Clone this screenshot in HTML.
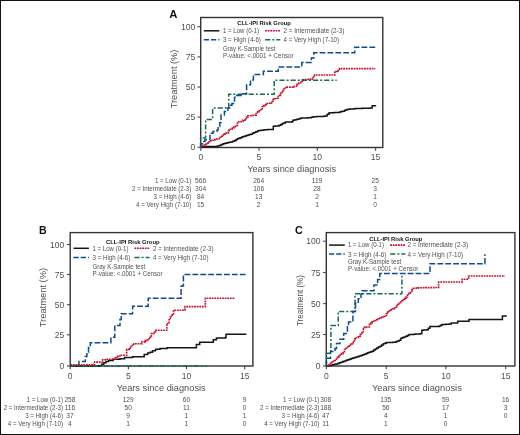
<!DOCTYPE html>
<html><head><meta charset="utf-8"><style>
html,body{margin:0;padding:0;background:#fff;}
body{width:520px;height:435px;overflow:hidden;position:relative;}
svg{position:absolute;left:0;top:0;display:block;font-family:"Liberation Sans", sans-serif;will-change:transform;}
.frame{position:absolute;left:0;top:0;width:518px;height:433px;border:1px solid #111;}
</style></head><body>
<svg width="520" height="435" viewBox="0 0 520 435">
<text x="169.2" y="18.0" font-size="11.3" font-weight="bold" fill="#111">A</text>
<rect x="200.7" y="17.5" width="182.1" height="130.0" fill="none" stroke="#333" stroke-width="1.4"/>
<path d="M200.6,146.7H202.2V146.7H203.9V146.7H205.5V146.6H207.2V146.6H208.8V146.6H210.5V146.6H212.1V146.5H213.8V146.5H215.4V146.5H217.3V145.9H219.2V145.4H221.1V144.6H223.1V143.8H225.0V143.2H226.9V142.7H228.9V142.3H230.8V141.9H232.7V141.2H234.6V140.4H236.1V139.4H237.7V138.5H240.0V137.7H241.7V137.1H243.3V136.6H245.0V136.0H246.4V135.6H247.9V135.1H249.4V134.6H250.8V134.2H252.4V133.3H254.0V132.5H255.8V131.7H257.7V130.8H259.4V130.6H261.1V130.3H262.9V130.1H264.6V129.8H266.2V129.7H267.8V129.6H269.4V129.5H271.0V129.4H273.3V126.3H275.3V126.1H277.3V125.9H279.1V125.2H280.8V124.4H282.3V123.6H283.9V122.9H285.4V122.1H287.0V122.0H288.5V121.9H290.1V121.9H291.7V121.8H292.9V120.3H294.2V120.0H295.5V119.8H296.9V119.3H298.3V118.9H299.7V118.5H301.1V118.0H302.8V118.0H304.4V117.9H306.1V117.9H307.7V117.8H309.4V117.8H311.3V117.2H313.2V116.7H314.9V116.7H316.6V116.6H318.3V116.6H320.0V116.5H321.7V116.5H323.4V116.2H325.1V115.9H327.1V114.3H329.1V112.8H330.9V112.7H332.6V112.7H334.4V112.6H336.1V112.6H337.9V112.5H339.5V112.1H341.0V111.6H342.6V111.2H344.6V110.3H346.6V109.5H348.4V109.3H350.1V109.1H351.9V108.9H353.6V108.7H355.4V108.5H357.0V108.5H358.6V108.4H360.2V108.4H361.8V108.3H363.4V108.3H365.1V108.3H366.7V108.2H368.3V108.2H369.9V108.1H371.5V108.1H372.2V105.8H376.2" fill="none" stroke="#151515" stroke-width="1.5" stroke-linecap="butt" stroke-linejoin="miter"/>
<path d="M200.6,147.0H201.2V146.2H202.9V145.6H204.6V145.0H206.1V144.1H207.7V143.1H209.2V141.9H210.8V140.8H212.2V140.2H213.5V139.6H215.2V139.2H216.9V138.8H219.2V137.3H220.8V136.2H222.3V135.0H224.2V134.1H226.2V133.1H228.5V130.4H230.4V129.2H232.3V128.1H233.9V126.8H235.4V125.4H237.5V121.8H239.2V121.7H241.0V121.5H243.0V120.1H245.0V118.7H246.4V117.2H247.9V115.8H249.6V115.7H251.4V115.5H253.1V115.3H254.8V115.2H256.2V113.5H257.7V111.7H259.1V110.8H260.6V110.0H262.1V106.7H263.5V105.6H264.8V104.6H266.2V103.5H268.2V103.2H270.2V102.9H271.6V101.2H273.1V99.4H274.8V98.8H276.5V98.3H278.3V95.4H280.6V92.5H282.1V90.8H283.5V89.0H285.2V88.0H286.9V87.1H291.5H292.9V86.7H294.4V86.2H296.7V84.4H299.0V82.7H300.8V81.2H302.5V79.8H304.1V79.7H305.6V79.6H307.2V79.5H308.7V79.4H310.3V79.3H312.5V77.0H314.5V75.0H332.6H334.7V72.4H336.0V71.5H337.4V70.6H339.5V68.6H375.3" fill="none" stroke="#c90d2c" stroke-width="1.6" stroke-dasharray="1.8 0.8" stroke-linecap="butt" stroke-linejoin="miter"/>
<path d="M200.6,147.0H200.6V137.9H205.6V119.5H212.6V108.1H228.7V94.2H274.2V80.2H336.7" fill="none" stroke="#1b6b4f" stroke-width="1.5" stroke-dasharray="5.2 2 2 2" stroke-linecap="butt" stroke-linejoin="miter"/>
<path d="M200.6,147.0H200.7V143.7H202.8V141.6H204.9V139.8H210.0V133.3H213.0V131.6H217.0V129.9H218.1V126.4H219.8V122.4H221.0V114.9H224.4V111.5H227.9V108.0H229.6V105.2H231.9V103.4H233.6V101.1H234.5V97.3H236.7V95.4H241.0V93.7H246.6V84.8H250.5V80.0H253.4V74.5H263.4V71.3H278.3V66.9H301.8V62.5H311.4V58.0H313.8V52.7H354.7V47.2H375.3" fill="none" stroke="#124b8b" stroke-width="1.5" stroke-dasharray="5.8 2.1" stroke-linecap="butt" stroke-linejoin="miter"/>
<line x1="197.5" y1="147.3" x2="200.7" y2="147.3" stroke="#444" stroke-width="1.1"/>
<text x="195.3" y="150.4" font-size="8.6" text-anchor="end" fill="#505050">0</text>
<line x1="197.5" y1="117.1" x2="200.7" y2="117.1" stroke="#444" stroke-width="1.1"/>
<text x="195.3" y="120.2" font-size="8.6" text-anchor="end" fill="#505050">25</text>
<line x1="197.5" y1="87.0" x2="200.7" y2="87.0" stroke="#444" stroke-width="1.1"/>
<text x="195.3" y="90.1" font-size="8.6" text-anchor="end" fill="#505050">50</text>
<line x1="197.5" y1="56.9" x2="200.7" y2="56.9" stroke="#444" stroke-width="1.1"/>
<text x="195.3" y="60.0" font-size="8.6" text-anchor="end" fill="#505050">75</text>
<line x1="197.5" y1="26.7" x2="200.7" y2="26.7" stroke="#444" stroke-width="1.1"/>
<text x="195.3" y="29.8" font-size="8.6" text-anchor="end" fill="#505050">100</text>
<line x1="200.8" y1="147.5" x2="200.8" y2="150.7" stroke="#444" stroke-width="1.1"/>
<text x="200.8" y="160.0" font-size="8.6" text-anchor="middle" fill="#505050">0</text>
<line x1="259.0" y1="147.5" x2="259.0" y2="150.7" stroke="#444" stroke-width="1.1"/>
<text x="259.0" y="160.0" font-size="8.6" text-anchor="middle" fill="#505050">5</text>
<line x1="317.3" y1="147.5" x2="317.3" y2="150.7" stroke="#444" stroke-width="1.1"/>
<text x="317.3" y="160.0" font-size="8.6" text-anchor="middle" fill="#505050">10</text>
<line x1="375.6" y1="147.5" x2="375.6" y2="150.7" stroke="#444" stroke-width="1.1"/>
<text x="375.6" y="160.0" font-size="8.6" text-anchor="middle" fill="#505050">15</text>
<text x="247.2" y="172.3" font-size="9.1" textLength="88.8" lengthAdjust="spacingAndGlyphs" fill="#505050">Years since diagnosis</text>
<text x="0.0" y="0.0" font-size="9.1" textLength="58.7" lengthAdjust="spacingAndGlyphs" fill="#505050" transform="translate(177.3,108.3) rotate(-90)">Treatment (%)</text>
<text x="237.3" y="25.2" font-size="6.1" font-weight="bold" textLength="53.6" lengthAdjust="spacingAndGlyphs" fill="#111">CLL-IPI Risk Group</text>
<path d="M203.8,30.8H219.3" fill="none" stroke="#151515" stroke-width="1.5" stroke-linecap="butt" stroke-linejoin="miter"/>
<path d="M265.1,30.8H280.3" fill="none" stroke="#c90d2c" stroke-width="1.6" stroke-dasharray="1.8 0.8" stroke-linecap="butt" stroke-linejoin="miter"/>
<path d="M203.8,39.7H219.3" fill="none" stroke="#124b8b" stroke-width="1.5" stroke-dasharray="5.2 2" stroke-linecap="butt" stroke-linejoin="miter"/>
<path d="M265.1,39.7H280.3" fill="none" stroke="#1b6b4f" stroke-width="1.5" stroke-dasharray="5.2 2 2 2" stroke-linecap="butt" stroke-linejoin="miter"/>
<text x="222.9" y="32.9" font-size="6.7" textLength="36.2" lengthAdjust="spacingAndGlyphs" fill="#505050">1 = Low (0-1)</text>
<text x="283.5" y="32.9" font-size="6.7" textLength="60.8" lengthAdjust="spacingAndGlyphs" fill="#505050">2 = Intermediate (2-3)</text>
<text x="222.9" y="42.1" font-size="6.7" textLength="38.0" lengthAdjust="spacingAndGlyphs" fill="#505050">3 = High (4-6)</text>
<text x="283.5" y="42.1" font-size="6.7" textLength="55.6" lengthAdjust="spacingAndGlyphs" fill="#505050">4 = Very High (7-10)</text>
<text x="222.9" y="51.0" font-size="6.7" textLength="52.6" lengthAdjust="spacingAndGlyphs" fill="#505050">Gray K-Sample test</text>
<text x="222.9" y="58.1" font-size="6.7" textLength="70.6" lengthAdjust="spacingAndGlyphs" fill="#505050">P-value: &lt;.0001 + Censor</text>
<text x="154.9" y="183.3" font-size="6.6" textLength="36.4" lengthAdjust="spacingAndGlyphs" fill="#505050">1 = Low (0-1)</text>
<text x="200.6" y="183.3" font-size="6.6" text-anchor="middle" fill="#505050">566</text>
<text x="258.7" y="183.3" font-size="6.6" text-anchor="middle" fill="#505050">264</text>
<text x="317.0" y="183.3" font-size="6.6" text-anchor="middle" fill="#505050">119</text>
<text x="375.2" y="183.3" font-size="6.6" text-anchor="middle" fill="#505050">25</text>
<text x="132.0" y="191.3" font-size="6.6" textLength="59.3" lengthAdjust="spacingAndGlyphs" fill="#505050">2 = Intermediate (2-3)</text>
<text x="200.6" y="191.3" font-size="6.6" text-anchor="middle" fill="#505050">304</text>
<text x="258.7" y="191.3" font-size="6.6" text-anchor="middle" fill="#505050">106</text>
<text x="317.0" y="191.3" font-size="6.6" text-anchor="middle" fill="#505050">28</text>
<text x="375.2" y="191.3" font-size="6.6" text-anchor="middle" fill="#505050">3</text>
<text x="153.5" y="199.0" font-size="6.6" textLength="37.8" lengthAdjust="spacingAndGlyphs" fill="#505050">3 = High (4-6)</text>
<text x="200.6" y="199.0" font-size="6.6" text-anchor="middle" fill="#505050">84</text>
<text x="258.7" y="199.0" font-size="6.6" text-anchor="middle" fill="#505050">13</text>
<text x="317.0" y="199.0" font-size="6.6" text-anchor="middle" fill="#505050">2</text>
<text x="375.2" y="199.0" font-size="6.6" text-anchor="middle" fill="#505050">1</text>
<text x="136.1" y="206.7" font-size="6.6" textLength="55.2" lengthAdjust="spacingAndGlyphs" fill="#505050">4 = Very High (7-10)</text>
<text x="200.6" y="206.7" font-size="6.6" text-anchor="middle" fill="#505050">15</text>
<text x="258.7" y="206.7" font-size="6.6" text-anchor="middle" fill="#505050">2</text>
<text x="317.0" y="206.7" font-size="6.6" text-anchor="middle" fill="#505050">1</text>
<text x="375.2" y="206.7" font-size="6.6" text-anchor="middle" fill="#505050">0</text>
<text x="39.1" y="233.6" font-size="10.6" font-weight="bold" fill="#111">B</text>
<rect x="70.2" y="232.6" width="182.7" height="133.4" fill="none" stroke="#333" stroke-width="1.4"/>
<path d="M70.4,365.9H78.9V361.5H85.3V356.6H86.9V352.3H88.5V347.5H90.3V342.7H110.9V337.3H114.8V325.5H120.0V319.5H121.2V313.7H132.6V306.2H148.2V298.2H181.1V286.1H183.4V274.6H246.4" fill="none" stroke="#124b8b" stroke-width="1.5" stroke-dasharray="5.8 2.1" stroke-linecap="butt" stroke-linejoin="miter"/>
<path d="M70.4,365.9H99.2V365.8H101.5V364.2H103.8V362.7H106.0V361.5H108.5V360.4H113.1V359.2H120.0V358.7H124.6V357.5H132.7V356.7H140.8H144.2V354.6H147.7V352.9H150.0V352.3H152.5V350.8H155.6V349.3H160.0V348.5H167.1V347.8H195.6H196.4V344.5H199.7V342.3H212.5H213.3V339.7H216.4V338.0H225.4V337.5H226.0V334.3H246.4" fill="none" stroke="#151515" stroke-width="1.5" stroke-linecap="butt" stroke-linejoin="miter"/>
<path d="M70.4,364.9H92.3V364.4H94.6V362.1H102.7V359.8H106.2V359.2H115.4V357.5H117.7V356.0H120.0V355.2H126.7V349.4H129.2V348.3H131.0V345.4H133.8V343.7H141.9V341.9H145.1V340.6H147.6V338.7H150.1V337.4H151.4V333.6H153.9V331.7H155.8V330.2H166.8V323.5H169.1V319.7H170.3V316.5H172.2V314.0H173.5V310.2H184.9V306.6H205.3V298.2H234.8" fill="none" stroke="#c90d2c" stroke-width="1.6" stroke-dasharray="1.8 0.8" stroke-linecap="butt" stroke-linejoin="miter"/>
<path d="M70.4,365.9H207.0" fill="none" stroke="#1b6b4f" stroke-width="1.5" stroke-dasharray="5.2 2 2 2" stroke-linecap="butt" stroke-linejoin="miter"/>
<line x1="67.0" y1="366.0" x2="70.2" y2="366.0" stroke="#444" stroke-width="1.1"/>
<text x="64.2" y="369.1" font-size="8.5" text-anchor="end" fill="#505050">0</text>
<line x1="67.0" y1="334.8" x2="70.2" y2="334.8" stroke="#444" stroke-width="1.1"/>
<text x="64.2" y="337.9" font-size="8.5" text-anchor="end" fill="#505050">25</text>
<line x1="67.0" y1="304.7" x2="70.2" y2="304.7" stroke="#444" stroke-width="1.1"/>
<text x="64.2" y="307.8" font-size="8.5" text-anchor="end" fill="#505050">50</text>
<line x1="67.0" y1="274.5" x2="70.2" y2="274.5" stroke="#444" stroke-width="1.1"/>
<text x="64.2" y="277.6" font-size="8.5" text-anchor="end" fill="#505050">75</text>
<line x1="67.0" y1="244.5" x2="70.2" y2="244.5" stroke="#444" stroke-width="1.1"/>
<text x="64.2" y="247.6" font-size="8.5" text-anchor="end" fill="#505050">100</text>
<line x1="70.2" y1="366.0" x2="70.2" y2="369.2" stroke="#444" stroke-width="1.1"/>
<text x="70.2" y="378.8" font-size="8.5" text-anchor="middle" fill="#505050">0</text>
<line x1="128.4" y1="366.0" x2="128.4" y2="369.2" stroke="#444" stroke-width="1.1"/>
<text x="128.4" y="378.8" font-size="8.5" text-anchor="middle" fill="#505050">5</text>
<line x1="186.5" y1="366.0" x2="186.5" y2="369.2" stroke="#444" stroke-width="1.1"/>
<text x="186.5" y="378.8" font-size="8.5" text-anchor="middle" fill="#505050">10</text>
<line x1="244.7" y1="366.0" x2="244.7" y2="369.2" stroke="#444" stroke-width="1.1"/>
<text x="244.7" y="378.8" font-size="8.5" text-anchor="middle" fill="#505050">15</text>
<text x="116.7" y="391.1" font-size="9.1" textLength="89.0" lengthAdjust="spacingAndGlyphs" fill="#505050">Years since diagnosis</text>
<text x="0.0" y="0.0" font-size="9.3" textLength="59.5" lengthAdjust="spacingAndGlyphs" fill="#505050" transform="translate(46.1,327.3) rotate(-90)">Treatment (%)</text>
<text x="106.0" y="243.9" font-size="6.1" font-weight="bold" textLength="53.6" lengthAdjust="spacingAndGlyphs" fill="#111">CLL-IPI Risk Group</text>
<path d="M73.5,248.3H88.9" fill="none" stroke="#151515" stroke-width="1.5" stroke-linecap="butt" stroke-linejoin="miter"/>
<path d="M134.4,248.3H149.6" fill="none" stroke="#c90d2c" stroke-width="1.6" stroke-dasharray="1.8 0.8" stroke-linecap="butt" stroke-linejoin="miter"/>
<path d="M73.5,257.4H88.9" fill="none" stroke="#124b8b" stroke-width="1.5" stroke-dasharray="5.2 2" stroke-linecap="butt" stroke-linejoin="miter"/>
<path d="M134.4,257.4H149.6" fill="none" stroke="#1b6b4f" stroke-width="1.5" stroke-dasharray="5.2 2 2 2" stroke-linecap="butt" stroke-linejoin="miter"/>
<text x="92.5" y="250.7" font-size="6.7" textLength="36.0" lengthAdjust="spacingAndGlyphs" fill="#505050">1 = Low (0-1)</text>
<text x="152.9" y="250.7" font-size="6.7" textLength="60.8" lengthAdjust="spacingAndGlyphs" fill="#505050">2 = Intermediate (2-3)</text>
<text x="92.5" y="259.8" font-size="6.7" textLength="37.8" lengthAdjust="spacingAndGlyphs" fill="#505050">3 = High (4-6)</text>
<text x="152.9" y="259.8" font-size="6.7" textLength="55.6" lengthAdjust="spacingAndGlyphs" fill="#505050">4 = Very High (7-10)</text>
<text x="92.5" y="268.9" font-size="6.7" textLength="52.6" lengthAdjust="spacingAndGlyphs" fill="#505050">Gray K-Sample test</text>
<text x="92.5" y="275.8" font-size="6.7" textLength="70.0" lengthAdjust="spacingAndGlyphs" fill="#505050">P-value: &lt;.0001 + Censor</text>
<text x="26.6" y="402.1" font-size="6.6" textLength="36.4" lengthAdjust="spacingAndGlyphs" fill="#505050">1 = Low (0-1)</text>
<text x="69.9" y="402.1" font-size="6.6" text-anchor="middle" fill="#505050">258</text>
<text x="128.2" y="402.1" font-size="6.6" text-anchor="middle" fill="#505050">129</text>
<text x="186.4" y="402.1" font-size="6.6" text-anchor="middle" fill="#505050">60</text>
<text x="244.7" y="402.1" font-size="6.6" text-anchor="middle" fill="#505050">9</text>
<text x="3.7" y="410.1" font-size="6.6" textLength="59.3" lengthAdjust="spacingAndGlyphs" fill="#505050">2 = Intermediate (2-3)</text>
<text x="69.9" y="410.1" font-size="6.6" text-anchor="middle" fill="#505050">116</text>
<text x="128.2" y="410.1" font-size="6.6" text-anchor="middle" fill="#505050">50</text>
<text x="186.4" y="410.1" font-size="6.6" text-anchor="middle" fill="#505050">11</text>
<text x="244.7" y="410.1" font-size="6.6" text-anchor="middle" fill="#505050">0</text>
<text x="25.2" y="418.0" font-size="6.6" textLength="37.8" lengthAdjust="spacingAndGlyphs" fill="#505050">3 = High (4-6)</text>
<text x="69.9" y="418.0" font-size="6.6" text-anchor="middle" fill="#505050">37</text>
<text x="128.2" y="418.0" font-size="6.6" text-anchor="middle" fill="#505050">9</text>
<text x="186.4" y="418.0" font-size="6.6" text-anchor="middle" fill="#505050">1</text>
<text x="244.7" y="418.0" font-size="6.6" text-anchor="middle" fill="#505050">1</text>
<text x="7.8" y="425.9" font-size="6.6" textLength="55.2" lengthAdjust="spacingAndGlyphs" fill="#505050">4 = Very High (7-10)</text>
<text x="69.9" y="425.9" font-size="6.6" text-anchor="middle" fill="#505050">4</text>
<text x="128.2" y="425.9" font-size="6.6" text-anchor="middle" fill="#505050">1</text>
<text x="186.4" y="425.9" font-size="6.6" text-anchor="middle" fill="#505050">1</text>
<text x="244.7" y="425.9" font-size="6.6" text-anchor="middle" fill="#505050">0</text>
<text x="294.9" y="233.6" font-size="10.8" font-weight="bold" fill="#111">C</text>
<rect x="326.3" y="232.6" width="188.6" height="133.4" fill="none" stroke="#333" stroke-width="1.4"/>
<path d="M326.5,365.9H328.0V365.7H329.5V365.4H331.0V365.2H332.7V364.8H334.4V364.3H336.1V363.9H337.7V363.4H339.4V362.8H341.0V362.3H342.7V361.6H344.5V361.0H346.2V360.3H347.8V359.7H349.4V359.2H351.0V358.6H352.8V358.1H354.5V357.5H356.3V357.0H357.9V356.5H359.4V355.9H361.0V355.4H362.7V354.8H364.4V354.2H366.0V353.5H367.6V352.8H369.1V352.3H370.7V351.7H372.2V351.2H373.7V350.1H375.3V349.1H376.8V348.0H378.4V347.1H380.0V346.3H381.6V345.1H383.2V343.8H384.8V343.2H386.4V342.6H388.0V342.5H389.6V342.4H391.3V342.4H392.9V342.3H394.5V342.2H396.1V341.5H397.7V340.9H399.3V340.2H400.9V338.3H402.5V337.6H404.1V336.9H405.7V336.2H407.4V335.4H409.0V334.6H410.6V334.5H412.2V334.4H413.8V334.3H415.4V334.1H417.0V334.0H418.6V333.9H420.2V333.8H421.8V330.3H423.4V330.1H425.1V330.0H426.7V329.8H428.3V328.2H429.9V326.6H437.9H439.3V325.9H440.6V325.2H442.0V324.5H443.8V324.4H445.6V324.3H447.4V324.2H449.2V324.1H450.5H451.3V322.9H456.9H457.7V321.2H468.2H469.0V319.6H502.0H502.4V316.1H506.8" fill="none" stroke="#151515" stroke-width="1.5" stroke-linecap="butt" stroke-linejoin="miter"/>
<path d="M326.5,365.8H327.8V365.2H329.1V364.7H330.5V363.4H331.9V362.2H333.3V361.4H334.7V360.5H336.4V357.8H337.6V357.1H338.8V356.4H340.2V355.0H341.6V353.6H343.1V351.6H344.6V349.5H346.1V348.3H347.7V347.0H349.2V345.8H350.6V344.2H352.0V342.6H353.4V340.8H354.7V338.9H356.5V337.5H358.4V336.1H360.2V334.3H362.1V332.5H363.4V327.4H364.8V327.3H366.2V327.1H367.6V327.0H369.4V324.2H370.8V323.0H372.2V321.9H373.5V321.2H374.9V320.5H376.8V319.6H378.6V318.7H380.3V317.9H382.0V317.0H383.4V316.2H384.8V315.5H386.4V313.6H388.0V311.8H389.5V310.8H391.0V309.9H392.5V308.9H394.5V307.2H396.5V305.5H398.0V304.3H399.5V303.0H401.0V301.8H402.2V300.6H403.5V299.5H404.8V298.2H406.1V297.0H407.5V295.1H408.9V293.3H410.3V291.5H411.7V289.6H413.5V288.3H415.0V288.2H416.5V288.1H417.9V287.9H419.4V287.8H420.9V287.7H422.5V287.7H424.0V287.7H425.6V287.6H427.1V287.6H428.7V287.6H430.2V287.6H431.8V287.6H433.3V287.6H434.9V287.5H436.4V287.5H438.0V287.5H438.6V282.0H461.8H462.2V279.3H468.2H468.6V276.0H505.0" fill="none" stroke="#c90d2c" stroke-width="1.6" stroke-dasharray="1.8 0.8" stroke-linecap="butt" stroke-linejoin="miter"/>
<path d="M326.4,366.0H326.4V353.3H330.9V325.6H338.2V311.5H355.0V293.8H401.9V275.8" fill="none" stroke="#1b6b4f" stroke-width="1.5" stroke-dasharray="5.2 2 2 2" stroke-linecap="butt" stroke-linejoin="miter"/>
<path d="M326.4,366.0H326.4V358.3H330.5V351.6H335.0V348.5H336.5V343.5H340.0V339.2H343.7V333.5H347.4V324.8H348.5V322.0H352.9V311.6H355.5V303.3H358.3V298.7H361.0V294.1H362.0V290.8H373.9V285.0H377.6V279.4H379.8V273.5H430.0V263.7H484.9V254.2" fill="none" stroke="#124b8b" stroke-width="1.5" stroke-dasharray="5.8 2.1" stroke-linecap="butt" stroke-linejoin="miter"/>
<line x1="323.1" y1="366.0" x2="326.3" y2="366.0" stroke="#444" stroke-width="1.1"/>
<text x="320.4" y="369.1" font-size="8.5" text-anchor="end" fill="#505050">0</text>
<line x1="323.1" y1="334.5" x2="326.3" y2="334.5" stroke="#444" stroke-width="1.1"/>
<text x="320.4" y="337.6" font-size="8.5" text-anchor="end" fill="#505050">25</text>
<line x1="323.1" y1="303.6" x2="326.3" y2="303.6" stroke="#444" stroke-width="1.1"/>
<text x="320.4" y="306.7" font-size="8.5" text-anchor="end" fill="#505050">50</text>
<line x1="323.1" y1="272.5" x2="326.3" y2="272.5" stroke="#444" stroke-width="1.1"/>
<text x="320.4" y="275.6" font-size="8.5" text-anchor="end" fill="#505050">75</text>
<line x1="323.1" y1="241.2" x2="326.3" y2="241.2" stroke="#444" stroke-width="1.1"/>
<text x="320.4" y="244.3" font-size="8.5" text-anchor="end" fill="#505050">100</text>
<line x1="326.4" y1="366.0" x2="326.4" y2="369.2" stroke="#444" stroke-width="1.1"/>
<text x="326.4" y="378.6" font-size="8.5" text-anchor="middle" fill="#505050">0</text>
<line x1="386.2" y1="366.0" x2="386.2" y2="369.2" stroke="#444" stroke-width="1.1"/>
<text x="386.2" y="378.6" font-size="8.5" text-anchor="middle" fill="#505050">5</text>
<line x1="445.9" y1="366.0" x2="445.9" y2="369.2" stroke="#444" stroke-width="1.1"/>
<text x="445.9" y="378.6" font-size="8.5" text-anchor="middle" fill="#505050">10</text>
<line x1="505.7" y1="366.0" x2="505.7" y2="369.2" stroke="#444" stroke-width="1.1"/>
<text x="505.7" y="378.6" font-size="8.5" text-anchor="middle" fill="#505050">15</text>
<text x="372.0" y="391.0" font-size="9.1" textLength="89.8" lengthAdjust="spacingAndGlyphs" fill="#505050">Years since diagnosis</text>
<text x="0.0" y="0.0" font-size="8.6" textLength="50.9" lengthAdjust="spacingAndGlyphs" fill="#505050" transform="translate(302.6,326.0) rotate(-90)">Treatment (%)</text>
<text x="369.2" y="240.6" font-size="6.1" font-weight="bold" textLength="53.2" lengthAdjust="spacingAndGlyphs" fill="#111">CLL-IPI Risk Group</text>
<path d="M329.0,245.1H344.7" fill="none" stroke="#151515" stroke-width="1.5" stroke-linecap="butt" stroke-linejoin="miter"/>
<path d="M390.2,245.1H405.4" fill="none" stroke="#c90d2c" stroke-width="1.6" stroke-dasharray="1.8 0.8" stroke-linecap="butt" stroke-linejoin="miter"/>
<path d="M329.0,254.1H344.7" fill="none" stroke="#124b8b" stroke-width="1.5" stroke-dasharray="5.2 2" stroke-linecap="butt" stroke-linejoin="miter"/>
<path d="M390.2,254.1H405.4" fill="none" stroke="#1b6b4f" stroke-width="1.5" stroke-dasharray="5.2 2 2 2" stroke-linecap="butt" stroke-linejoin="miter"/>
<text x="348.0" y="247.2" font-size="6.7" textLength="36.0" lengthAdjust="spacingAndGlyphs" fill="#505050">1 = Low (0-1)</text>
<text x="407.4" y="247.2" font-size="6.7" textLength="60.8" lengthAdjust="spacingAndGlyphs" fill="#505050">2 = Intermediate (2-3)</text>
<text x="348.0" y="256.5" font-size="6.7" textLength="38.3" lengthAdjust="spacingAndGlyphs" fill="#505050">3 = High (4-6)</text>
<text x="407.4" y="256.5" font-size="6.7" textLength="55.6" lengthAdjust="spacingAndGlyphs" fill="#505050">4 = Very High (7-10)</text>
<text x="348.0" y="263.6" font-size="6.7" textLength="53.2" lengthAdjust="spacingAndGlyphs" fill="#505050">Gray K-Sample test</text>
<text x="348.0" y="270.8" font-size="6.7" textLength="70.4" lengthAdjust="spacingAndGlyphs" fill="#505050">P-value: &lt;.0001 + Censor</text>
<text x="283.0" y="401.8" font-size="6.6" textLength="36.4" lengthAdjust="spacingAndGlyphs" fill="#505050">1 = Low (0-1)</text>
<text x="325.7" y="401.8" font-size="6.6" text-anchor="middle" fill="#505050">308</text>
<text x="385.8" y="401.8" font-size="6.6" text-anchor="middle" fill="#505050">135</text>
<text x="445.6" y="401.8" font-size="6.6" text-anchor="middle" fill="#505050">59</text>
<text x="505.6" y="401.8" font-size="6.6" text-anchor="middle" fill="#505050">16</text>
<text x="260.1" y="409.8" font-size="6.6" textLength="59.3" lengthAdjust="spacingAndGlyphs" fill="#505050">2 = Intermediate (2-3)</text>
<text x="325.7" y="409.8" font-size="6.6" text-anchor="middle" fill="#505050">188</text>
<text x="385.8" y="409.8" font-size="6.6" text-anchor="middle" fill="#505050">56</text>
<text x="445.6" y="409.8" font-size="6.6" text-anchor="middle" fill="#505050">17</text>
<text x="505.6" y="409.8" font-size="6.6" text-anchor="middle" fill="#505050">3</text>
<text x="281.6" y="417.5" font-size="6.6" textLength="37.8" lengthAdjust="spacingAndGlyphs" fill="#505050">3 = High (4-6)</text>
<text x="325.7" y="417.5" font-size="6.6" text-anchor="middle" fill="#505050">47</text>
<text x="385.8" y="417.5" font-size="6.6" text-anchor="middle" fill="#505050">4</text>
<text x="445.6" y="417.5" font-size="6.6" text-anchor="middle" fill="#505050">1</text>
<text x="505.6" y="417.5" font-size="6.6" text-anchor="middle" fill="#505050">0</text>
<text x="264.2" y="425.5" font-size="6.6" textLength="55.2" lengthAdjust="spacingAndGlyphs" fill="#505050">4 = Very High (7-10)</text>
<text x="325.7" y="425.5" font-size="6.6" text-anchor="middle" fill="#505050">11</text>
<text x="385.8" y="425.5" font-size="6.6" text-anchor="middle" fill="#505050">1</text>
<text x="445.6" y="425.5" font-size="6.6" text-anchor="middle" fill="#505050">0</text>
</svg>
<div class="frame"></div>
</body></html>
